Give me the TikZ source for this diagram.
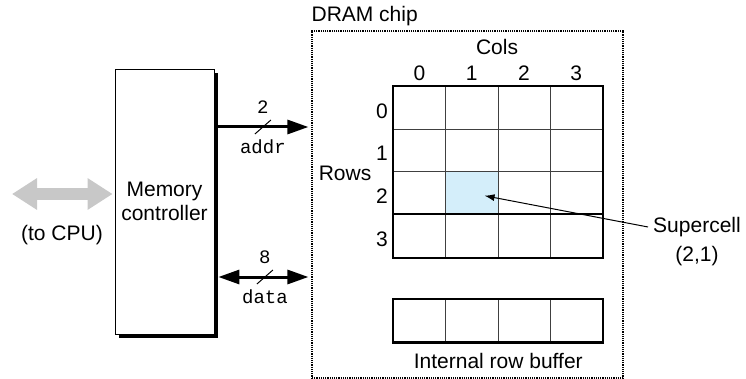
\documentclass[tikz,border=0pt]{standalone}
\usepackage{fontspec}
\setmainfont{Liberation Sans}
\setmonofont{Liberation Mono}
\usetikzlibrary{positioning,shapes,arrows.meta,shadows,calc}
\definecolor{cellblue}{RGB}{212,238,250}
\definecolor{busgray}{RGB}{200,200,200}

\begin{document}
\begin{tikzpicture}[x=1pt, y=-1pt,
    lbl/.style={font=\fontsize{21}{24}\selectfont, inner sep=0pt},
    code/.style={font=\fontsize{19}{22}\selectfont\ttfamily, inner sep=0pt},
    cell/.style={rectangle, draw=black!75, line width=0.8pt, minimum width=52.25pt, minimum height=42.75pt, inner sep=0pt, anchor=north west},
    ctrl/.style={rectangle, draw, line width=0.8pt, fill=white, minimum width=99pt, minimum height=265pt, align=center, font=\fontsize{21}{24}\selectfont,
        drop shadow={shadow xshift=4pt, shadow yshift=-4pt, fill=black, opacity=1}},
    chipbox/.style={rectangle, draw, dash pattern=on 1.2pt off 1pt, line width=1.2pt, minimum width=311pt, minimum height=347pt},
    bus/.style={line width=3pt, -{Triangle[length=21pt,width=14pt]}, shorten >=3pt},
    cpubus/.style={line width=12pt, draw=busgray, {Triangle[length=25pt,width=30pt]}-{Triangle[length=25pt,width=30pt]}, shorten >=2pt},
    slash/.style={line width=1pt}
]
    \useasboundingbox (0,0) rectangle (746,379);

    \node[ctrl] (mc) at (164.5,201.5) {Memory\\controller};
    \node[chipbox] (chip) at (467.5,204.5) {};
    \node[lbl, above right=4pt and 0pt of chip.north west] (chiplbl) {DRAM chip};

    % to the CPU
    \coordinate (cpu) at (12,194);
    \draw[cpubus] (cpu) -- (mc.west |- cpu);
    \node[lbl] (tocpu) at (62,235) {(to CPU)};

    % supercell array
    \foreach \r in {0,...,3} {
        \foreach \c in {0,...,3} {
            \node[cell] (c-\r-\c) at (393+52.25*\c, 86+42.75*\r) {};
        }
    }
    \node[cell, fill=cellblue] (c-2-1) at (393+52.25, 86+42.75*2) {};
    \draw[line width=2pt] (c-3-0.north west) -- (c-3-3.north east);
    \draw[line width=2.5pt] (c-0-0.north west) rectangle (c-3-3.south east);

    \foreach \c in {0,...,3} {
        \node[lbl, above=5pt of c-0-\c.north] (col-\c) {\c};
    }
    \foreach \r in {0,...,3} {
        \node[lbl, left=5pt of c-\r-0.west, yshift=-3pt] (row-\r) {\r};
    }
    \node[lbl] (cols) at (497,47) {Cols};
    \node[lbl] (rows) at (345,173) {Rows};

    % row buffer
    \foreach \c in {0,...,3} {
        \node[cell] (b-\c) at (393+52.25*\c, 299) {};
    }
    \draw[line width=2.5pt] (b-0.north west) rectangle (b-3.south east);
    \node[lbl, below=11pt of b-1.south east] (buflbl) {Internal row buffer};

    % buses
    \coordinate (addr) at (0,127);
    \coordinate (data) at (0,277);
    \draw[bus] (mc.east |- addr) -- coordinate[midway] (addrmid) (chip.west |- addr);
    \draw[slash] ($(addrmid)+(-8,7)$) -- ($(addrmid)+(8,-7)$);
    \node[code, above=13pt] (addrw) at (addrmid) {2};
    \node[code, below=13pt] (addrlbl) at (addrmid) {addr};

    \draw[bus, {Triangle[length=21pt,width=14pt]}-{Triangle[length=21pt,width=14pt]}]
        ($(mc.east |- data)+(4,0)$) -- coordinate[midway] (datamid) (chip.west |- data);
    \draw[slash] ($(datamid)+(-8,7)$) -- ($(datamid)+(8,-7)$);
    \node[code, above=13pt] (dataw) at (datamid) {8};
    \node[code, below=13pt] (datalbl) at (datamid) {data};

    % pointer to supercell
    \node[lbl] (super) at (697,227) {Supercell};
    \node[lbl, below=9pt of super] (superpos) {(2,1)};
    \draw[line width=1pt, -{Latex[length=10pt,width=7pt]}, shorten >=13pt]
        ([xshift=-5pt]super.west) -- (c-2-1.center);
\end{tikzpicture}
\end{document}
